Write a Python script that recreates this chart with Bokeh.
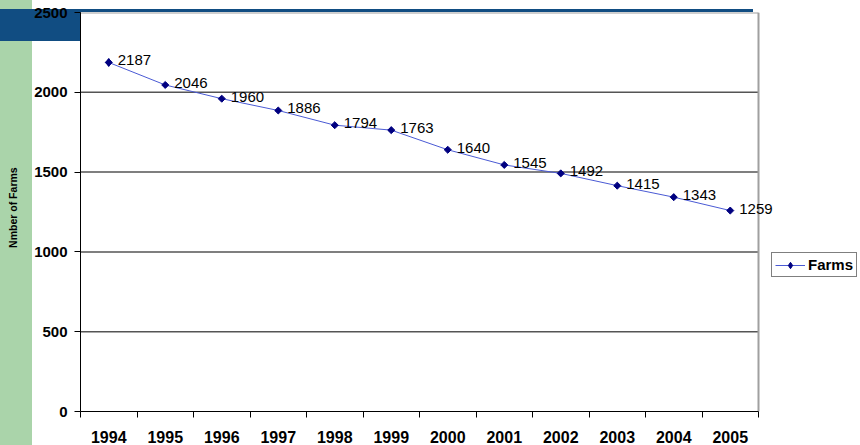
import math
from bokeh.plotting import figure
from bokeh.models import Range1d, FixedTicker, Legend, LegendItem
from bokeh.core.properties import value
from bokeh.embed import file_html
from bokeh.resources import INLINE

years = [1994, 1995, 1996, 1997, 1998, 1999, 2000, 2001, 2002, 2003, 2004, 2005]
farms = [2187, 2046, 1960, 1886, 1794, 1763, 1640, 1545, 1492, 1415, 1343, 1259]
y_ticks = [0, 500, 1000, 1500, 2000, 2500]
y_title = "Nmber of Farms"
series_name = "Farms"

FONT = "Liberation Sans"

W, H = 860, 445
LEFT, TOP, BOTTOM = 80, 12, 33
x0, x1 = years[0] - 0.5, years[-1] + 0.5
px_per_year = 678 / len(years)
x_end = x0 + (W - LEFT) / px_per_year   # extend frame to the canvas edge so labels/legend are not clipped

p = figure(width=W, height=H, output_backend="svg", toolbar_location=None,
           x_range=Range1d(x0, x_end), y_range=Range1d(y_ticks[0], y_ticks[-1]),
           min_border_left=LEFT, min_border_right=0, min_border_top=TOP, min_border_bottom=BOTTOM)
p.background_fill_color = "white"
p.border_fill_alpha = 0
p.outline_line_color = None
p.styles = {
    "background-color": "white",
    "background-image": "linear-gradient(#114d82, #114d82), linear-gradient(#114d82, #114d82), "
                        "linear-gradient(#aad4aa, #aad4aa)",
    "background-size": "81px 32px, 672px 3px, 32px 100%",
    "background-position": "0px 9px, 81px 9px, 0px 0px",
    "background-repeat": "no-repeat",
}

# x axis
boundaries = [y - 0.5 for y in years] + [years[-1] + 0.5]
p.xaxis.ticker = FixedTicker(ticks=years, minor_ticks=boundaries)
p.xaxis.bounds = (x0, x1)
p.xaxis.major_label_overrides = {y: str(y) for y in years}
p.xaxis.major_tick_out = 0
p.xaxis.major_tick_in = 0
p.xaxis.minor_tick_out = 6
p.xaxis.minor_tick_in = 0
p.xaxis.minor_tick_line_color = "black"
p.xaxis.axis_line_color = "black"
p.xaxis.major_label_standoff = 13
p.xaxis.major_label_text_font = FONT
p.xaxis.major_label_text_font_style = "bold"
p.xaxis.major_label_text_font_size = "16px"
p.xaxis.major_label_text_color = "black"

# y axis
p.yaxis.ticker = FixedTicker(ticks=y_ticks)
p.yaxis.major_tick_out = 6
p.yaxis.major_tick_in = 0
p.yaxis.minor_tick_out = 0
p.yaxis.minor_tick_in = 0
p.yaxis.major_tick_line_color = "black"
p.yaxis.axis_line_color = "black"
p.yaxis.major_label_standoff = 7
p.yaxis.major_label_text_font = FONT
p.yaxis.major_label_text_font_style = "bold"
p.yaxis.major_label_text_font_size = "15px"
p.yaxis.major_label_text_color = "black"
# leading no-break spaces lift the rotated title slightly above the frame centre, as in the original
p.yaxis.axis_label = "\u00a0" * 3 + y_title
p.yaxis.axis_label_text_font = FONT
p.yaxis.axis_label_text_font_style = "bold"
p.yaxis.axis_label_text_font_size = "10.5px"
p.yaxis.axis_label_text_color = "black"
p.yaxis.axis_label_standoff = 12

p.xgrid.grid_line_color = None
p.ygrid.grid_line_color = None

# grid lines limited to the plot area
inner = y_ticks[1:-1]
p.segment(x0=[x0] * len(inner), x1=[x1] * len(inner), y0=inner, y1=inner,
          line_color="#555555", line_width=1.5)
# plot-area border (top and right)
p.segment(x0=[x0, x1], x1=[x1, x1], y0=[y_ticks[-1], y_ticks[0]], y1=[y_ticks[-1], y_ticks[-1]],
          line_color="#a0a0a0", line_width=2)

line = p.line(years, farms, line_color="#4a5ad4", line_width=1)
# diamond used for the legend key (sits hidden beneath the first rotated-square marker)
legend_marker = p.scatter(years[:1], farms[:1], marker="diamond", size=8,
                          fill_color="#000080", line_color="#000080")
pts = p.scatter(years, farms, marker="square", size=5, angle=math.pi / 4,
                fill_color="#000080", line_color="#000080")
p.text(x=years, y=farms, text=[str(v) for v in farms], x_offset=9, y_offset=-2,
       text_font=value(FONT), text_font_size="15px", text_baseline="middle", text_align="left",
       text_color="black")

legend = Legend(items=[LegendItem(label=series_name, renderers=[line, legend_marker])],
                location=(691, 134), orientation="vertical",
                label_text_font=FONT, label_text_font_style="bold", label_text_font_size="15px",
                label_text_color="black",
                border_line_color="black", border_line_width=1, background_fill_color="white",
                background_fill_alpha=1, padding=3, margin=0, spacing=0,
                glyph_width=30, glyph_height=16, label_standoff=3, label_height=16)
p.add_layout(legend)

open("out.html", "w").write(file_html(p, INLINE))
